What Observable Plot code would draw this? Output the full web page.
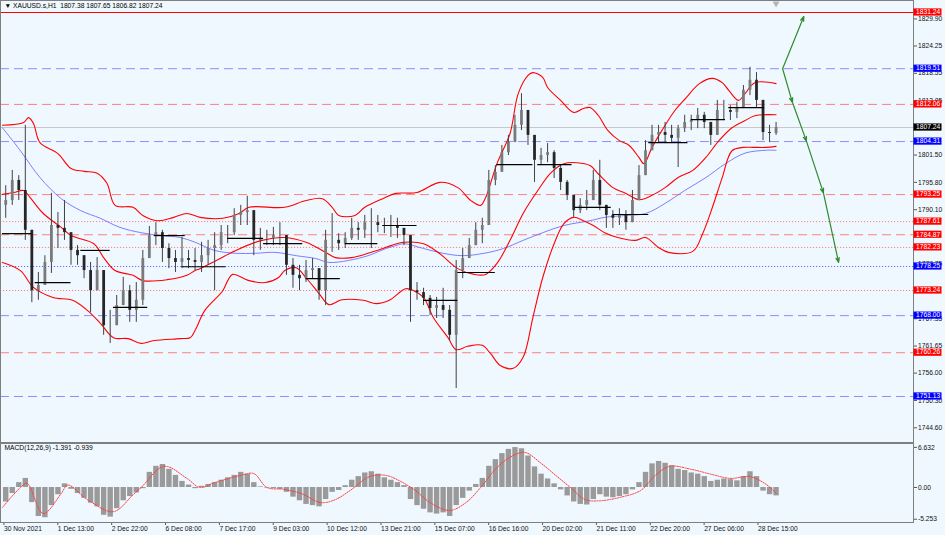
<!DOCTYPE html>
<html><head><meta charset="utf-8">
<script src="https://cdn.jsdelivr.net/npm/d3@7"></script>
<script src="https://cdn.jsdelivr.net/npm/@observablehq/plot@0.6"></script>
<style>
html,body{margin:0;padding:0;background:#f0f8ff;}
#chart{width:945px;height:535px;overflow:hidden;background:#f0f8ff;}
#chart svg{display:block;}
</style></head><body><div id="chart"></div>
<script>
// ---------- texts ----------
const symbolTitle = "▼ XAUUSD.s,H1  1807.38 1807.65 1806.82 1807.24";
const macdTitle = "MACD(12,26,9) -1.391 -0.939";

// ---------- time axis (bar index -> label) ----------
const timeTickBars = [0, 33, 66, 99, 132, 165, 198, 231, 264, 297, 330, 363, 396, 429, 462];
const timeTickLabels = ["30 Nov 2021", "1 Dec 13:00", "2 Dec 22:00", "6 Dec 08:00", "7 Dec 17:00", "9 Dec 03:00",
  "10 Dec 12:00", "13 Dec 21:00", "15 Dec 07:00", "16 Dec 16:00", "20 Dec 02:00", "21 Dec 11:00",
  "22 Dec 20:00", "27 Dec 06:00", "28 Dec 15:00"];

// ---------- price axis (ticks not hidden by the level labels) ----------
const priceTicks = [1829.90, 1824.25, 1818.55, 1812.85, 1801.50, 1795.80, 1790.10,
  1778.75, 1767.35, 1761.65, 1756.00, 1750.30, 1744.60];
const macdTicks = [6.632, 0, -5.253];
const macdTickLabels = ["6.632", "0.00", "-5.253"];

// ---------- candles (one per 4 hourly bars) ----------
const candleOpen0 = 1791.0;
const candleHigh = [1795.1,1798.3,1797.2,1807.7,1779.5,1777.0,1780.5,1793.5,1789.5,1792.0,
1784.7,1782.6,1780.5,1779.1,1780.1,1773.2,1769.1,1772.2,1776.0,1774.3,
1774.9,1781.6,1786.6,1787.4,1785.8,1783.0,1781.6,1784.3,1781.6,1782.0,
1783.3,1783.7,1785.3,1786.8,1786.8,1790.3,1791.0,1792.9,1789.9,1786.2,
1785.8,1786.4,1787.4,1784.7,1779.9,1778.5,1779.5,1779.9,1777.8,1785.8,
1789.3,1785.1,1785.3,1788.3,1787.4,1788.9,1790.3,1788.9,1788.3,1788.9,
1788.3,1786.2,1784.7,1774.9,1773.7,1772.2,1771.8,1773.7,1770.1,1779.5,
1782.0,1784.1,1787.4,1788.3,1798.3,1799.3,1803.5,1805.6,1809.8,1814.3,
1810.8,1805.6,1802.9,1803.9,1802.4,1799.3,1796.2,1793.1,1792.4,1794.1,
1798.3,1800.4,1791.0,1789.9,1790.3,1789.9,1794.1,1799.3,1804.5,1807.7,
1807.7,1808.3,1807.7,1807.7,1809.8,1809.8,1811.2,1810.4,1808.3,1812.9,
1812.9,1811.8,1812.5,1816.0,1819.8,1818.7,1812.9,1807.7,1808.3];
const candleLow = [1788.3,1791.0,1792.0,1783.7,1770.7,1771.2,1774.3,1776.8,1782.0,1783.7,
1778.5,1778.5,1775.7,1768.6,1773.2,1763.9,1762.2,1765.9,1770.1,1766.6,
1766.6,1770.1,1780.5,1782.6,1779.1,1777.8,1777.0,1777.8,1777.8,1777.4,
1777.0,1778.5,1773.2,1781.6,1783.0,1784.7,1786.8,1786.8,1780.5,1781.6,
1782.6,1782.6,1782.6,1776.4,1773.7,1773.2,1774.9,1775.7,1771.2,1770.1,
1781.2,1781.6,1782.0,1783.7,1783.7,1784.1,1782.0,1785.3,1785.1,1784.3,
1784.1,1782.6,1766.6,1771.2,1770.1,1768.0,1767.4,1767.4,1762.8,1752.8,
1775.7,1780.5,1783.7,1783.0,1787.8,1795.1,1797.9,1801.4,1804.5,1806.6,
1803.5,1795.8,1799.3,1799.9,1796.6,1794.1,1792.0,1788.5,1789.3,1789.9,
1792.0,1789.9,1786.2,1786.2,1786.8,1785.8,1787.4,1792.0,1797.2,1802.4,
1804.1,1803.9,1803.9,1798.9,1806.2,1806.6,1807.0,1807.0,1803.5,1805.6,
1808.7,1808.7,1809.1,1811.2,1813.9,1811.2,1804.5,1804.1,1805.6];
const candleClose = [1792.0,1796.2,1794.1,1785.8,1773.2,1774.3,1779.1,1786.8,1786.2,1785.3,
1781.6,1780.5,1777.4,1773.2,1777.4,1765.9,1765.9,1770.1,1773.2,1769.1,
1771.2,1779.9,1784.7,1785.3,1782.0,1779.9,1779.1,1779.9,1779.5,1779.1,
1780.5,1782.0,1782.6,1785.3,1785.3,1788.9,1789.5,1789.9,1783.7,1784.1,
1784.1,1784.7,1784.7,1778.5,1776.4,1775.7,1777.4,1777.8,1773.2,1783.7,
1783.7,1783.0,1784.1,1786.2,1785.8,1787.4,1787.4,1786.8,1786.6,1786.8,
1786.2,1784.7,1773.2,1772.8,1771.6,1769.5,1770.1,1769.1,1763.9,1777.4,
1779.9,1782.6,1785.8,1786.8,1796.2,1797.9,1802.0,1804.1,1807.7,1810.8,
1805.6,1800.4,1801.4,1802.0,1798.7,1795.8,1793.1,1789.9,1791.0,1792.0,
1796.2,1791.0,1788.9,1788.3,1788.9,1787.4,1792.0,1797.2,1802.4,1805.6,
1806.2,1805.6,1805.0,1807.0,1808.3,1808.7,1809.8,1808.3,1805.6,1810.8,
1810.8,1810.4,1811.2,1815.0,1817.1,1812.9,1806.2,1806.0,1807.24];

// ---------- Bollinger bands & moving average: [bar, price] ----------
const bandUpper = [[0,1807.7],[13,1808.3],[16,1809.3],[19,1808.1],[23,1804.1],[34,1801.8],[42,1798.7],[50,1798.1],
[58,1797.7],[64,1795.6],[69,1791.0],[80,1790.6],[86,1788.9],[95,1787.8],[105,1788.5],[113,1789.3],[121,1788.5],
[135,1788.3],[145,1789.3],[151,1790.6],[173,1790.6],[186,1792.0],[196,1792.4],[202,1790.6],[206,1788.9],[216,1788.9],
[222,1790.6],[233,1792.4],[241,1793.5],[254,1793.7],[268,1795.8],[279,1794.7],[287,1792.0],[293,1791.0],[296,1792.6],
[303,1799.7],[311,1806.0],[316,1814.3],[322,1818.1],[325,1818.7],[331,1817.7],[334,1815.6],[342,1812.9],[350,1810.4],
[356,1811.2],[360,1811.4],[365,1809.8],[371,1806.6],[378,1804.5],[384,1803.5],[390,1801.0],[393,1799.7],[398,1803.1],
[404,1806.6],[412,1810.8],[419,1813.5],[427,1816.4],[435,1817.5],[441,1816.6],[445,1815.0],[451,1812.9],[455,1814.3],
[461,1816.6],[474,1816.4]];
const bandMiddle = [[0,1793.3],[7,1793.7],[13,1794.1],[17,1792.6],[25,1789.3],[36,1786.4],[42,1784.7],[56,1783.0],
[62,1780.1],[69,1777.4],[80,1776.4],[86,1775.3],[101,1775.5],[113,1776.4],[118,1777.4],[121,1777.8],[131,1779.5],
[143,1781.6],[159,1783.7],[173,1784.3],[186,1783.3],[198,1781.2],[204,1780.1],[214,1780.1],[224,1781.0],[233,1782.0],
[238,1782.6],[246,1783.3],[258,1783.0],[268,1780.9],[279,1777.8],[289,1776.6],[296,1776.6],[303,1778.9],[311,1783.7],
[319,1789.3],[328,1794.1],[336,1797.8],[344,1799.7],[352,1799.9],[360,1799.3],[365,1797.6],[374,1794.7],[382,1793.5],
[390,1792.2],[398,1793.1],[406,1794.7],[414,1796.8],[423,1798.3],[431,1801.0],[439,1804.5],[447,1807.2],[455,1808.7],
[461,1809.7],[474,1809.9]];
const bandLower = [[0,1779.1],[11,1777.4],[19,1773.9],[31,1771.8],[43,1771.2],[52,1769.1],[60,1766.4],[68,1763.4],
[77,1763.2],[85,1762.2],[93,1762.8],[109,1763.2],[115,1763.4],[118,1764.9],[124,1769.1],[135,1773.2],[138,1775.3],
[141,1776.6],[151,1775.3],[161,1774.9],[169,1775.9],[173,1777.4],[180,1778.0],[186,1775.9],[194,1772.6],[200,1770.3],
[208,1771.3],[221,1771.2],[229,1770.5],[237,1771.2],[247,1773.6],[252,1773.2],[258,1771.8],[264,1767.6],[273,1763.4],
[278,1760.9],[285,1761.6],[294,1761.8],[299,1760.1],[305,1757.6],[313,1757.0],[319,1759.3],[325,1767.6],[331,1775.9],
[338,1783.0],[344,1787.2],[350,1788.5],[356,1787.8],[362,1786.8],[369,1785.3],[377,1784.3],[388,1783.7],[394,1784.3],
[402,1782.2],[408,1781.2],[423,1781.4],[429,1785.1],[435,1790.6],[441,1796.8],[447,1802.4],[454,1803.1],[460,1803.1],
[468,1803.1],[474,1803.3]];
const maSlow = [[0,1807.2],[11,1802.4],[23,1796.8],[36,1792.4],[48,1789.9],[60,1788.3],[72,1786.4],[85,1785.3],
[97,1784.7],[109,1784.3],[118,1783.3],[130,1781.6],[143,1781.0],[155,1781.0],[167,1781.2],[180,1780.5],[192,1779.9],
[200,1779.1],[212,1779.5],[224,1780.5],[235,1782.0],[241,1782.6],[246,1783.0],[258,1782.0],[270,1781.0],[282,1780.5],
[295,1781.0],[307,1782.0],[319,1783.7],[331,1785.3],[344,1786.8],[360,1787.8],[369,1788.5],[382,1788.9],[394,1789.3],
[406,1791.4],[418,1794.1],[431,1796.8],[443,1799.7],[455,1801.9],[468,1802.5],[474,1802.5]];

// ---------- daily black segments ----------
const segStart = [0,20,48,68,93,110,138,160,186,210,233,258,279,303,328,351,374,396,422,445];
const segEnd   = [18,42,66,89,112,137,160,184,207,230,254,279,302,325,349,373,396,420,443,467];
const segPrice = [1785.1,1774.9,1781.6,1769.7,1784.7,1778.2,1784.1,1783.0,1775.7,1783.0,1786.8,1771.2,1777.0,
  1799.5,1799.5,1790.6,1789.1,1804.1,1808.9,1811.4];

// ---------- horizontal levels ----------
const levelPrice = [1831.24,1819.51,1812.06,1807.24,1804.31,1793.25,1787.61,1784.87,1782.23,1778.25,1773.24,1768.00,1760.26,1751.13];
const levelKind = ["redSolid","blueDash","redDash","current","blueDash","redDash","redDot","redDash","redDot","blueDot","redDot","blueDash","redDash","blueDash"];

// ---------- green projection arrows ----------
const arrowFromBar   = [478, 478, 484, 492.6, 503];
const arrowFromPrice = [1819.51, 1819.51, 1812.5, 1804.4, 1793.6];
const arrowToBar     = [491, 484, 492.6, 503, 512.3];
const arrowToPrice   = [1830.4, 1812.5, 1804.4, 1793.6, 1779.1];

// ---------- MACD ----------
const macdHist = [-2.4,-1.0,0.8,1.5,-2.5,-4.8,-5.0,-3.0,-1.2,0.6,
-0.3,-1.0,-1.8,-2.6,-3.2,-4.6,-4.9,-3.5,-2.2,-1.5,
-0.9,-0.2,2.5,3.5,3.8,3.0,2.0,1.0,0.4,-0.2,
0.2,0.5,0.8,1.2,1.6,2.0,2.5,2.2,0.8,0.1,
-0.1,-0.2,-0.3,-0.8,-1.6,-2.2,-2.8,-3.0,-3.2,-2.0,
-0.8,-0.5,0.3,1.2,1.8,2.4,2.6,2.2,1.6,1.2,
0.8,0.3,-2.0,-3.0,-3.6,-4.2,-4.4,-4.2,-4.8,-3.0,
-1.8,-0.6,0.5,1.5,3.5,4.6,5.6,6.3,6.6,6.4,
5.2,3.4,2.2,1.4,0.6,-0.4,-1.4,-2.4,-2.8,-2.9,
-2.0,-1.2,-1.6,-1.7,-1.5,-1.2,-0.4,0.8,2.5,3.9,
4.3,4.0,3.6,3.0,2.8,2.4,2.2,1.8,1.0,1.2,
1.4,1.3,1.1,1.8,2.6,1.8,-0.6,-1.2,-1.391];
const macdSignal = [[0,-3.3],[11,0.0],[15,0.7],[25,-4.3],[36,-1.0],[40,0.4],[52,-2.0],[68,-4.0],[80,-1.2],[85,0.0],
[99,3.5],[113,1.5],[121,0.0],[130,0.8],[146,2.0],[154,2.3],[162,0.0],[172,-0.3],[183,-1.0],[195,-2.5],[204,-2.0],
[213,-0.5],[225,1.8],[235,2.0],[244,1.0],[253,-0.5],[262,-2.5],[274,-3.8],[284,-2.5],[293,0.0],[302,3.0],[311,5.0],
[320,5.8],[330,4.0],[339,2.0],[348,0.0],[357,-2.0],[366,-2.2],[379,-1.6],[391,-0.5],[400,2.0],[409,3.5],[422,3.0],
[434,2.2],[446,1.5],[458,1.8],[468,0.5],[474,-0.939]];

// ================= drawing =================
const FONT = "Liberation Sans, Arial, sans-serif";
const FS = 6.7;
const BG = "#f0f8ff";
const xDomain = [-1.2, 558.2];

const candles = candleClose.map((c, k) => {
  const o = k === 0 ? candleOpen0 : candleClose[k - 1];
  return {bar: 4 * k + 2, o, c, h: Math.max(candleHigh[k], o, c), l: Math.min(candleLow[k], o, c)};
});
const hist = macdHist.map((v, k) => ({bar: 4 * k + 2, v}));
const levels = levelPrice.map((p, j) => ({p, kind: levelKind[j]}));
const segs = segPrice.map((p, j) => ({a: segStart[j], b: segEnd[j], p}));
const arrows = arrowFromBar.map((x1, j) => ({x1, y1: arrowFromPrice[j], x2: arrowToBar[j], y2: arrowToPrice[j]}));

const levelStyle = {
  redSolid: {stroke: "#ff0000", dash: null, w: 1.1},
  redDash:  {stroke: "#ff7f7f", dash: "9,5", w: 1},
  redDot:   {stroke: "#ff7f7f", dash: "1.2,1.8", w: 1},
  blueDash: {stroke: "#8c8cff", dash: "9,5", w: 1},
  blueDot:  {stroke: "#6a6aff", dash: "1.2,1.8", w: 1},
  current:  {stroke: "#c8c8c8", dash: null, w: 1}
};
const boxFill = {redSolid: "#ff0000", redDash: "#ff0000", redDot: "#ff0000", blueDash: "#0000ff", blueDot: "#0000ff", current: "#000000"};

const levelMarks = Object.keys(levelStyle).map(kind => Plot.ruleY(levels.filter(d => d.kind === kind), {
  y: "p", stroke: levelStyle[kind].stroke, strokeWidth: levelStyle[kind].w,
  strokeDasharray: levelStyle[kind].dash || undefined
}));

const pt = {x: d => d[0], y: d => d[1]};

const main = Plot.plot({
  width: 945, height: 443,
  marginLeft: 0, marginRight: 32, marginTop: 0, marginBottom: 1,
  style: {background: BG, fontFamily: FONT, fontSize: FS + "px", color: "#000", overflow: "visible"},
  x: {domain: xDomain, axis: null},
  y: {domain: [1741.53, 1833.74]},
  marks: [
    ...levelMarks,
    Plot.line(maSlow, {...pt, stroke: "#6f6fff", strokeWidth: 0.9, curve: "catmull-rom"}),
    Plot.line(bandUpper, {...pt, stroke: "#ff0000", strokeWidth: 1.1, curve: "catmull-rom"}),
    Plot.line(bandMiddle, {...pt, stroke: "#ff0000", strokeWidth: 1.1, curve: "catmull-rom"}),
    Plot.line(bandLower, {...pt, stroke: "#ff0000", strokeWidth: 1.1, curve: "catmull-rom"}),
    Plot.ruleX(candles, {x: "bar", y1: "l", y2: "h", stroke: "#404040", strokeWidth: 1}),
    Plot.ruleX(candles, {x: "bar", y1: "o", y2: "c", stroke: d => d.c >= d.o ? "#7a7a7a" : "#262626", strokeWidth: 2.8}),
    Plot.ruleY(segs, {y: "p", x1: "a", x2: "b", stroke: "#000", strokeWidth: 1.2}),
    Plot.arrow(arrows, {x1: "x1", y1: "y1", x2: "x2", y2: "y2", stroke: "#2e8b2e", strokeWidth: 1.2, headLength: 6, headAngle: 40}),
    Plot.dot(candles.slice(-1), {x: "bar", frameAnchor: "top", symbol: "triangle", rotate: 180, r: 2.6, dy: 3, fill: "#b4b4b4", stroke: "none"}),
    Plot.axisY({anchor: "right", ticks: priceTicks, tickFormat: d => d.toFixed(2), tickSize: 3, tickPadding: 1.5,
      fontSize: FS, stroke: "#555", fill: "#111", label: null}),
    Plot.frame({stroke: "#7f7f7f"}),
    Plot.text([symbolTitle], {frameAnchor: "top-left", dx: 4, dy: 2.5, fontSize: FS, fill: "#000"})
  ]
});

// price labels on the right axis (positioned through the plot's own scales)
{
  const ys = main.scale("y"), xs = main.scale("x");
  const xr = xs.range[1];
  const g = d3.select(main).append("g").attr("font-family", FONT).attr("font-size", FS).attr("text-anchor", "start");
  levels.forEach(d => {
    const y = ys.apply(d.p);
    g.append("rect").attr("x", xr + 0.5).attr("y", y - 3.6).attr("width", 28).attr("height", 7.2).attr("fill", boxFill[d.kind]);
    g.append("text").attr("x", xr + 3).attr("y", y).attr("dy", "0.34em").attr("text-anchor", "start")
      .attr("fill", "#fff").text(d.p.toFixed(2));
  });
}

const macd = Plot.plot({
  width: 945, height: 92,
  marginLeft: 0, marginRight: 32, marginTop: 0, marginBottom: 13,
  style: {background: BG, fontFamily: FONT, fontSize: FS + "px", color: "#000", overflow: "visible"},
  x: {domain: xDomain},
  y: {domain: [-5.79, 7.27]},
  marks: [
    Plot.ruleX(hist, {x: "bar", y1: 0, y2: "v", stroke: "#9a9a9a", strokeWidth: 5.4}),
    Plot.line(macdSignal, {...pt, stroke: "#ff3b3b", strokeWidth: 1, strokeDasharray: "1.3,1.3", curve: "catmull-rom"}),
    Plot.axisY({anchor: "right", ticks: macdTicks, tickFormat: d => macdTickLabels[macdTicks.indexOf(d)], tickSize: 3,
      tickPadding: 1.5, fontSize: FS, stroke: "#555", fill: "#111", label: null}),
    Plot.axisX({ticks: timeTickBars, tickFormat: d => timeTickLabels[timeTickBars.indexOf(d)], tickSize: 3, tickPadding: 0.5,
      textAnchor: "start", dx: 1.5, fontSize: FS, stroke: "#555", fill: "#111", label: null}),
    Plot.frame({stroke: "#7f7f7f"}),
    Plot.text([macdTitle], {frameAnchor: "top-left", dx: 4, dy: 1.5, fontSize: FS, fill: "#000"})
  ]
});

const root = document.getElementById("chart");
root.appendChild(main);
root.appendChild(macd);
</script>
</body></html>
